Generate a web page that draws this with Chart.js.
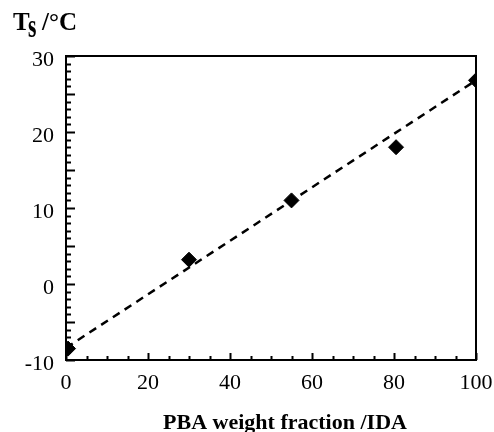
<!DOCTYPE html>
<html>
<head>
<meta charset="utf-8">
<script src="https://cdn.jsdelivr.net/npm/chart.js@4"></script>
<style>
  body { margin: 0; background: #fff; }
  #wrap { width: 494px; height: 432px; }
</style>
</head>
<body>
<div id="wrap"><canvas id="tsChart"></canvas></div>
<script>
// measured points
const fraction = [0.5, 30, 55, 80.5, 100];
const ts = [-8.5, 3.2, 11, 18, 26.8];

// linear fit (dashed)
const fitX = [0, 100];
const fitY = [-8.4, 26.8];

const xTicks = [0, 20, 40, 60, 80, 100];
const yTicks = [-10, 0, 10, 20, 30];

const serif = "'Liberation Serif', 'Times New Roman', serif";

// frame + inward tick marks + titles
const framePlugin = {
    id: "frame",
    afterDraw(chart) {
        const ctx = chart.ctx;
        const a = chart.chartArea;
        const xs = chart.scales.x;
        const ys = chart.scales.y;
        ctx.save();
        ctx.strokeStyle = "#000";
        ctx.lineWidth = 2;
        ctx.strokeRect(a.left, a.top, a.right - a.left, a.bottom - a.top);

        // y ticks every 1, longer every 5
        ctx.beginPath();
        for (let v = -10; v <= 30; v++) {
            const py = Math.round(ys.getPixelForValue(v)) + 0.5;
            const len = v % 5 === 0 ? 9 : 5;
            ctx.moveTo(a.left, py);
            ctx.lineTo(a.left + len, py);
        }
        // x ticks every 5, longer every 20
        for (let v = 0; v <= 100; v += 5) {
            const px = Math.round(xs.getPixelForValue(v)) + 0.5;
            const len = v % 20 === 0 ? 7 : 4;
            ctx.moveTo(px, a.bottom);
            ctx.lineTo(px, a.bottom - len);
        }
        ctx.stroke();

        // axis titles
        ctx.fillStyle = "#000";
        ctx.textBaseline = "alphabetic";
        ctx.textAlign = "left";
        ctx.font = "bold 25px " + serif;
        ctx.fillText("T", 13, 30);
        ctx.save();
        ctx.translate(28, 37);
        ctx.scale(0.9, 1.4);
        ctx.font = "bold 24px " + serif;
        ctx.fillText("s", 0, 0);
        ctx.restore();
        ctx.font = "bold 25px " + serif;
        ctx.fillText("/\u00B0C", 42, 30);

        ctx.textAlign = "center";
        ctx.font = "bold 22px " + serif;
        ctx.fillText("PBA weight fraction /IDA", 285, 429);
        ctx.restore();
    }
};

new Chart(document.getElementById("tsChart"), {
    type: "scatter",
    data: {
        datasets: [
            {
                label: "fit",
                type: "line",
                data: fitX.map((x, i) => ({ x: x, y: fitY[i] })),
                borderColor: "#000",
                borderWidth: 2.5,
                borderDash: [8, 6],
                pointRadius: 0,
                fill: false,
                order: 2
            },
            {
                label: "Ts",
                data: fraction.map((x, i) => ({ x: x, y: ts[i] })),
                pointStyle: "rectRot",
                pointRadius: 7.5,
                pointBorderWidth: 1,
                backgroundColor: "#000",
                borderColor: "#000",
                order: 1
            }
        ]
    },
    options: {
        responsive: true,
        maintainAspectRatio: false,
        animation: false,
        layout: { padding: { top: 56, right: 18, left: 0, bottom: 0 } },
        plugins: {
            legend: { display: false },
            tooltip: { enabled: false }
        },
        scales: {
            x: {
                type: "linear",
                min: 0,
                max: 100,
                afterBuildTicks: s => { s.ticks = xTicks.map(v => ({ value: v })); },
                afterFit: s => { s.height = 72; s.paddingLeft = 0; s.paddingRight = 0; },
                grid: { display: false, drawTicks: false },
                border: { display: false },
                ticks: {
                    color: "#000",
                    padding: 10,
                    maxRotation: 0,
                    font: { family: serif, size: 22 }
                }
            },
            y: {
                type: "linear",
                min: -10,
                max: 30,
                afterBuildTicks: s => { s.ticks = yTicks.map(v => ({ value: v })); },
                afterFit: s => { s.width = 66; s.paddingTop = 0; s.paddingBottom = 0; },
                grid: { display: false, drawTicks: false },
                border: { display: false },
                ticks: {
                    color: "#000",
                    padding: 12,
                    labelOffset: 4,
                    font: { family: serif, size: 22 }
                }
            }
        }
    },
    plugins: [framePlugin]
});
</script>
</body>
</html>
